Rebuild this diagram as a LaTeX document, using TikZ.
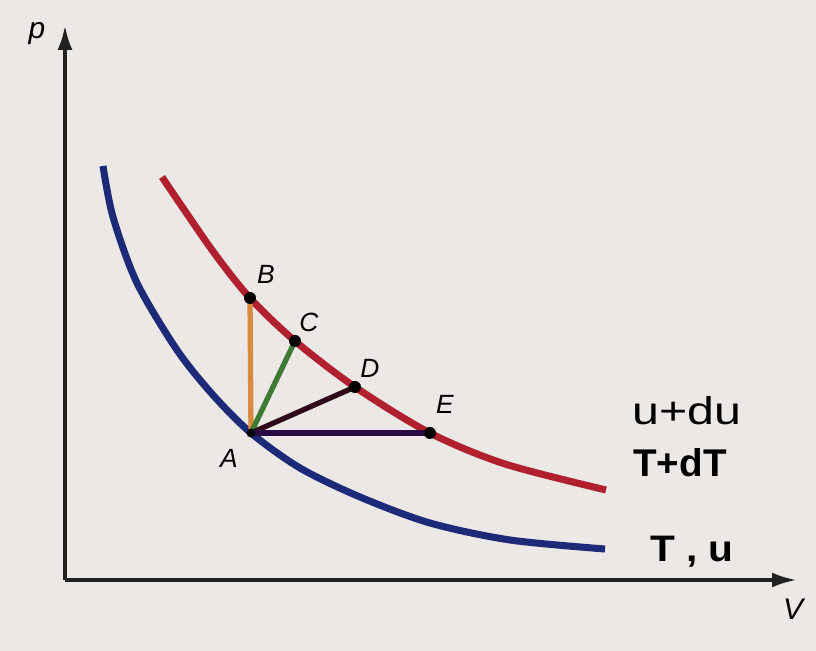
\documentclass[tikz,border=0pt]{standalone}
\usepackage{fontspec}
\setmainfont{Liberation Sans}
\usepackage{xcolor}
\definecolor{pvbg}{HTML}{EBE8E5}
\definecolor{pvaxis}{HTML}{222222}
\definecolor{pvblue}{HTML}{1C2A78}
\definecolor{pvred}{HTML}{B0202E}
\definecolor{pvorange}{HTML}{D98A3E}
\definecolor{pvgreen}{HTML}{3E7A34}
\definecolor{pvmaroon}{HTML}{2E0A1A}
\definecolor{pvpurple}{HTML}{2A0A45}
\usetikzlibrary{arrows.meta}

\begin{document}
\begin{tikzpicture}[
  x=0.02cm, y=-0.02cm,
  axis/.style={draw=pvaxis, line width=2.2pt, -{Latex[length=5mm,width=3mm]}},
  isotherm/.style={line width=4pt},
  seg/.style={line width=3pt},
  dot/.style={circle,fill=black,inner sep=0pt,minimum size=2.4mm},
  ptlbl/.style={font=\itshape\fontsize{15}{17}\selectfont, inner sep=0pt},
  curvelbl/.style={font=\fontsize{22}{26}\selectfont, inner sep=0pt, anchor=base west}
]
% canvas
\fill[pvbg] (0,0) rectangle (816,651);
\useasboundingbox (0,0) rectangle (816,651);

% axes
\coordinate (O) at (65,580);
\coordinate (ptop) at (65,25);
\coordinate (vend) at (797,580);
\draw[axis] (O) -- (ptop);
\draw[axis] (O) -- (vend);
\node[ptlbl, font=\itshape\fontsize{17}{19}\selectfont] (plbl) at (37,34) {p};
\node[ptlbl, font=\itshape\fontsize{17}{19}\selectfont] (vlbl) at (793,609) {V};

% states
\coordinate (A) at (251,433);
\coordinate (B) at (250,298);
\coordinate (C) at (295,341);
\coordinate (D) at (355,387);
\coordinate (E) at (430,433);

% isotherms
\draw[isotherm, pvblue] plot[smooth] coordinates {(103,166) (113,217) (137,283) (177,350) (213,395) (A) (300,468) (360,497) (430,523) (510,540) (605,549)};
\draw[isotherm, pvred] plot[smooth] coordinates {(162,177) (212,250) (B) (C) (D) (E) (505,464) (606,490)};

% paths from A
\draw[seg, pvorange] (A) -- (B);
\draw[seg, pvgreen] (A) -- (C);
\draw[seg, pvmaroon] (A) -- (D);
\draw[seg, pvpurple] (A) -- (E);

\foreach \p in {B,C,D,E}
  \node[dot] (dot\p) at (\p) {};
\node[dot, minimum size=1.8mm] (dotA) at (A) {};

\node[ptlbl] (lblA) at ([shift={(-22,25)}]A) {A};
\node[ptlbl] (lblB) at ([shift={(16,-24)}]B) {B};
\node[ptlbl] (lblC) at ([shift={(14,-19)}]C) {C};
\node[ptlbl] (lblD) at ([shift={(15,-19)}]D) {D};
\node[ptlbl] (lblE) at ([shift={(15,-29)}]E) {E};

% curve labels
\node[curvelbl] (uhot) at (632,425) {\scalebox{1.25}[1]{u+du}};
\node[curvelbl, font=\bfseries\fontsize{22}{26}\selectfont] (thot) at (633,477) {T+dT};
\node[curvelbl, font=\bfseries\fontsize{21}{25}\selectfont] (tcold) at (650,562) {\scalebox{1.1}[1]{T , u}};
\end{tikzpicture}
\end{document}
